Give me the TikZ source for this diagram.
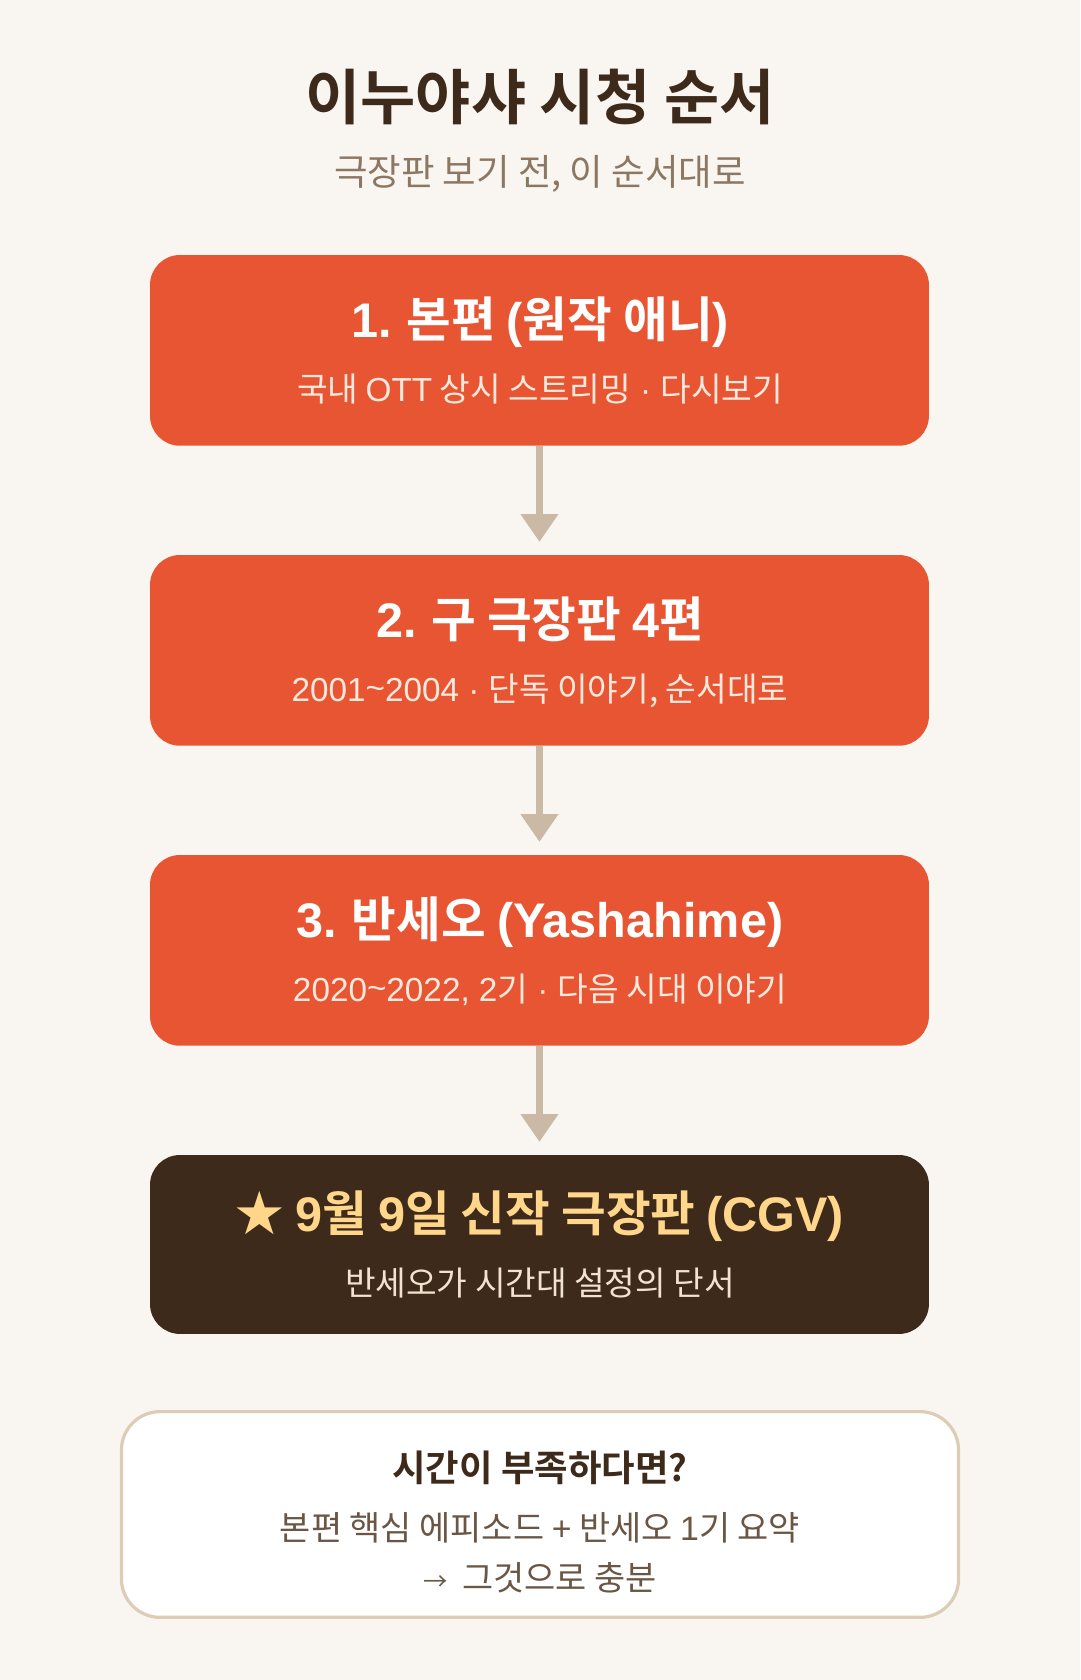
\documentclass[tikz,border=0pt]{standalone}
\usepackage{fontspec}
\setmainfont{Noto Sans CJK KR}[BoldFont={Noto Sans CJK KR Bold}]
\newfontfamily\latn{Liberation Sans}
\usetikzlibrary{arrows.meta}
\definecolor{bgc}{HTML}{F9F6F1}
\definecolor{orng}{HTML}{E85532}
\definecolor{darkb}{HTML}{3D2A1B}
\definecolor{arrc}{HTML}{C9B9A5}
\definecolor{subc}{HTML}{8C7762}
\definecolor{lightc}{HTML}{FFE9DD}
\definecolor{goldc}{HTML}{FFD68A}
\definecolor{creamc}{HTML}{F2E3CF}
\definecolor{bordc}{HTML}{DDCDB7}
\definecolor{notec}{HTML}{6A5643}
\newcommand{\mdot}{{\latn\ ·\ }}
\newcommand{\tld}{\raisebox{0.1ex}{\char`\~}}
\tikzset{
  stepbox/.style={rectangle, rounded corners=21pt, fill=orng, draw=none, minimum width=545.25pt, minimum height=133.5pt, inner sep=0pt},
  finalbox/.style={stepbox, fill=darkb, minimum height=125.25pt},
  notebox/.style={rectangle, rounded corners=27pt, fill=white, draw=bordc, line width=2.25pt, minimum width=586pt, minimum height=144pt, inner sep=0pt},
  boxtitle/.style={anchor=base, inner sep=0pt, text=white, font=\fontsize{34pt}{40pt}\selectfont\bfseries},
  boxsub/.style={anchor=base, inner sep=0pt, text=lightc, font=\fontsize{23.3pt}{28pt}\selectfont},
  notetext/.style={anchor=base, inner sep=0pt, text=notec, font=\fontsize{23.7pt}{28pt}\selectfont},
  conn/.style={draw=arrc, line width=4.5pt, -{Triangle[width=25.5pt,length=19.5pt]}, shorten >=9pt},
}
\begin{document}
\begin{tikzpicture}[x=0.75pt,y=-0.75pt]
\fill[bgc] (0,0) rectangle (1008,1568);
\useasboundingbox (0,0) rectangle (1008,1568);
% heading
\node[anchor=base, inner sep=0pt, text=darkb, font=\fontsize{42pt}{48pt}\selectfont\bfseries] (title) at (504,111.3) {이누야샤 시청 순서};
\node[anchor=base, inner sep=0pt, text=subc, font=\fontsize{25.5pt}{30pt}\selectfont] (subtitle) at (504,172.9) {극장판 보기 전, 이 순서대로};
% boxes
\node[stepbox] (b1) at (503.5,327) {};
\node[stepbox] (b2) at (503.5,607) {};
\node[stepbox] (b3) at (503.5,887) {};
\node[finalbox] (b4) at (503.5,1161.5) {};
\node[notebox] (b5) at (504,1413.5) {};
% texts
\node[boxtitle] (t1) at (504,315.2) {{\latn 1.} 본편 {\latn (}원작 애니{\latn )}};
\node[boxsub] (s1) at (504,374.8) {국내 {\latn OTT} 상시 스트리밍\mdot 다시보기};
\node[boxtitle] (t2) at (504,595.2) {{\latn 2.} 구 극장판 {\latn 4}편};
\node[boxsub] (s2) at (504,654.8) {{\latn 2001\tld 2004}\mdot 단독 이야기, 순서대로};
\node[boxtitle] (t3) at (504,875.2) {{\latn 3.} 반세오 {\latn (Yashahime)}};
\node[boxsub] (s3) at (504,934.8) {{\latn 2020\tld 2022, 2}기\mdot 다음 시대 이야기};
\node[boxtitle, text=goldc] (t4) at (504,1149.2) {★ {\latn 9}월 {\latn 9}일 신작 극장판 {\latn (CGV)}};
\node[boxsub, text=creamc] (s4) at (504,1208.8) {반세오가 시간대 설정의 단서};
\node[anchor=base, inner sep=0pt, text=darkb, font=\fontsize{25.5pt}{30pt}\selectfont\bfseries] (t5) at (504,1382.9) {시간이 부족하다면?};
\node[notetext] (n1) at (504,1438) {본편 핵심 에피소드 {\latn +} 반세오 {\latn 1}기 요약};
\node[notetext] (n2) at (504,1484) {{\fontsize{17pt}{20pt}\selectfont →}\ \ 그것으로 충분};
% connectors
\draw[conn] (b1.south) -- (b2.north);
\draw[conn] (b2.south) -- (b3.north);
\draw[conn] (b3.south) -- (b4.north);
\end{tikzpicture}
\end{document}
